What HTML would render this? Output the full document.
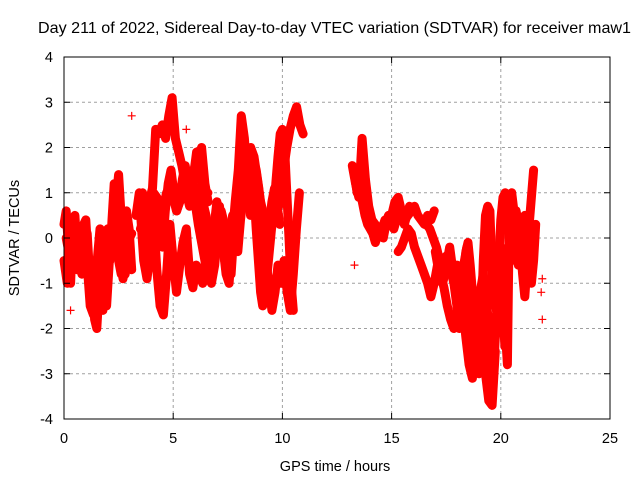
<!DOCTYPE html>
<html><head><meta charset="utf-8"><style>
body{margin:0;background:#fff;}
svg text{font-family:"Liberation Sans",sans-serif;fill:#000;}
</style></head><body>
<svg id="chart" width="640" height="480" xmlns="http://www.w3.org/2000/svg">
<rect width="640" height="480" fill="#fff"/>
<text x="334.5" y="33" font-size="16" textLength="593" lengthAdjust="spacingAndGlyphs" text-anchor="middle">Day 211 of 2022, Sidereal Day-to-day VTEC variation (SDTVAR) for receiver maw1</text>
<text x="335" y="471" font-size="14.5" text-anchor="middle">GPS time / hours</text>
<text transform="translate(19,238) rotate(-90)" font-size="14.5" text-anchor="middle">SDTVAR / TECUs</text>
<g id="grid"></g>
<g id="marks"></g>
<rect x="64" y="57" width="546" height="362" fill="none" stroke="#000" stroke-width="1"/>
<g id="ticks"></g>
</svg>
<script>
const xTicks=[0,5,10,15,20,25];
const yTicks=[-4,-3,-2,-1,0,1,2,3,4];
const t1Start=0.0, t1Step=0.1;
const t1=[0.3,0.6,-0.2,-1,0.2,0.5,-0.3,0.1,-0.6,0.3,0.4,-0.4,-1.2,-0.5,-1.8,-2,-1.2,-0.3,-1.5,-0.8,0.2,-0.5,0.4,1.2,0.9,1.4,0.6,-0.3,-0.8,0.0,0.0,0.1];
const t2Start=0.0, t2Step=0.15;
const t2=[-0.5,-1,0.2,-0.3,-0.7,0.1,0,-0.5,-1.5,-1.7,-0.6,0.2,-0.2,-1.5,-0.3,0.3,0.8,-0.2,-0.9,-0.5,0];
const t2bStart=0.1, t2bStep=0.12;
const t2b=[0.0,-0.3,-0.6,0.2,0.0,-0.4,-0.8,-0.2,0.1,-0.9,-1.3,-1.0,-0.6,-1.1,-1.6,-0.8,-0.3,0.2,0.4,-0.2,-0.5,-0.8,-0.3,0.6,0.2,-0.7];
const t3Start=3.3, t3Step=0.15;
const t3=[0.5,1.0,0.3,-0.5,0.8,1.1,2.4,2.3,2.5,2.2,2.7,3.1,2.2,1.9,1.6,1.2,1.0,1.3,1.6,1.8,2.0,1.2,0.8];
const t4Start=3.5, t4Step=0.15;
const t4=[0.6,-0.5,-0.9,-0.3,0.5,-0.7,-1.5,-1.7,-0.8,0.3,-0.5,-1.2,-0.6,-0.1,0.2,-0.8,-1.1,-0.6,-0.8,-1.0,-0.4];
const t5Start=3.5, t5Step=0.15;
const t5=[0.2,0.4,0.6,0.8,1.0,0.9,0.5,0.7,1.0,1.1,0.9,0.6,0.8,1.2,1.0,0.7,0.9,1.1,1.0,0.8,0.5,0.0];
const t5bStart=3.6, t5bStep=0.13;
const t5b=[1.0,0.5,0.0,-0.3,0.3,0.8,0.4,-0.2,0.6,1.2,1.5,1.0,0.6,0.8,1.3,1.6,1.2,0.9,1.4,1.9,1.6,1.1,0.9,1.0];
const t6Start=6.0, t6Step=0.15;
const t6=[0.8,0.3,-0.1,-0.5,-0.8,-1.0,-0.6,0.2,0.6,0.3,-0.5,-0.8,0.3,0.8,1.2,1.6,1.5,2.0,1.8,1.3,0.8,0.5,0.3,0.4,0.5,0.6,0.8,1.5,2.0,2.4,2.7,2.9,2.5,2.3];
const t7Start=6.3, t7Step=0.14;
const t7=[0.6,0.0,-0.5,-0.3,0.2,0.8,0.5,-0.2,-0.8,-1.0,0.0,0.8,1.5,2.7,2.2,1.2,0.5,1.0,1.3,0.6,-0.1,-0.5,-1.0,-1.6,-1.2,-0.6,-1.0,-0.5,-1.2,-1.6,-0.8,0.2,1.0];
const t7bStart=6.4, t7bStep=0.12;
const t7b=[0.2,-0.4,-0.8,-0.6,-0.2,0.4,0.7,0.2,-0.5,-0.7,0.0,0.5,0.2,-0.3,0.4,0.9,1.2,1.0,1.3,1.7,1.5,1.1,0.6,0.2,-0.2,0.3,0.8,1.1,0.7,0.3];
const t8Start=8.6, t8Step=0.1;
const t8=[1.8,1.0,0.2,-0.5,-1.2,-1.5,-1.2,-0.8,-0.3,0.2,0.5,1.2,1.8,2.3,2.4,2.0,1.0,0.0,-1.0,-1.6];
const t9Start=13.2, t9Step=0.15;
const t9=[1.6,1.2,0.9,2.2,1.3,0.7,0.4,0.3,0.1,0.2,0.4,0.3,0.5,0.8,0.9,0.6,0.4,0.5,0.6,0.7,0.5,0.4,0.3,0.5,0.4,0.6];
const t9bStart=13.3, t9bStep=0.12;
const t9b=[1.4,1.0,1.2,0.8,0.5,0.3,0.2,0.1,-0.1,0.1,0.2,0.0,0.3,0.5,0.4,0.2,0.4,0.6,0.5,0.3,0.5,0.7,0.6];
const t10Start=15.3, t10Step=0.15;
const t10=[-0.3,-0.2,0.0,0.2,0.1,-0.2,-0.4,-0.6,-0.8,-1.0,-1.3,-1.0,-0.6,-0.8,-1.1,-1.5,-1.8,-2.0,-1.8,-1.2,-0.6,-0.2];
const t11Start=16.6, t11Step=0.15;
const t11=[0.3,0.2,0.0,-0.2,-0.5,-0.7,-0.4,-0.5,-0.9,-1.2,-1.0,-1.5,-2.2,-2.8,-3.1,-2.4,-1.8,-2.5,-3.0,-3.6,-3.7,-2.5];
const t11bStart=17.0, t11bStep=0.11;
const t11b=[-0.3,-0.6,-0.9,-1.0,-0.8,-0.5,-0.2,-0.6,-1.1,-1.5,-2.0,-1.6,-1.2,-0.9,-1.3,-1.8,-2.3,-2.0,-1.5,-1.1,-0.8,-1.2,-1.8,-2.6,-3.2,-2.2,-1.2,-0.6,-1.4,-2.4];
const t12Start=18.0, t12Step=0.1;
const t12=[-0.6,-1.0,-1.5,-0.8,-0.3,-0.1,-0.6,-1.2,-1.8,-2.5,-3.0,-2.0,-0.5,0.5,0.7,0.6,-0.8,-1.5,-1.2,-0.5,-0.2,-1.0,-2.0,-2.8,0.8,1.0,0.6,-0.2,-0.6,-0.3,0.1,0.5,0.4,-0.4,-1.0,-0.5,0.3];
const t13Start=19.8, t13Step=0.1;
const t13=[-1.6,-0.6,0.4,0.9,1.0,0.6,0.0,-0.5,0.2,0.6,0.3,-0.2,-0.8,-1.3,-0.6,0.3,0.9,1.5];
const outlierTimes=[13.3,21.9,21.9,21.85,0.3,3.1,5.6];
const outlierValues=[-0.6,-0.9,-1.8,-1.2,-1.6,2.7,2.4];

const NS='http://www.w3.org/2000/svg';
const X0=64,X1=610,Y0=419,Y1=57;
function xs(v){return X0+(v-0)/25*(X1-X0);}
function ys(v){return Y0-(v+4)/8*(Y0-Y1);}
function mk(tag,attrs,parent){const e=document.createElementNS(NS,tag);for(const k in attrs)e.setAttribute(k,attrs[k]);parent.appendChild(e);return e;}
const grid=document.getElementById('grid'),ticks=document.getElementById('ticks'),marks=document.getElementById('marks');
xTicks.forEach(v=>{
  const x=xs(v);
  if(v>0&&v<25){const g=mk('line',{x1:x,x2:x,y1:Y1,y2:Y0,stroke:'#a0a0a0','stroke-dasharray':'3,3'},grid);
  
  }
  mk('line',{x1:x,x2:x,y1:Y0,y2:Y0-6,stroke:'#000'},ticks);
  mk('line',{x1:x,x2:x,y1:Y1,y2:Y1+6,stroke:'#000'},ticks);
  const t=mk('text',{x:x,y:443,'font-size':'14.5','text-anchor':'middle'},ticks);t.textContent=v;
  
  
});
yTicks.forEach(v=>{
  const y=ys(v);
  if(v>-4&&v<4){const g=mk('line',{x1:X0,x2:X1,y1:y,y2:y,stroke:'#a0a0a0','stroke-dasharray':'3,3'},grid);
  
  }
  mk('line',{x1:X0,x2:X0+6,y1:y,y2:y,stroke:'#000'},ticks);
  mk('line',{x1:X1,x2:X1-6,y1:y,y2:y,stroke:'#000'},ticks);
  const t=mk('text',{x:53,y:y+5,'font-size':'14.5','text-anchor':'end'},ticks);t.textContent=v;
  
  
});
const tracks=[[t1Start,t1Step,t1],[t2Start,t2Step,t2],[t2bStart,t2bStep,t2b],[t3Start,t3Step,t3],[t4Start,t4Step,t4],[t5Start,t5Step,t5],[t5bStart,t5bStep,t5b],[t6Start,t6Step,t6],[t7Start,t7Step,t7],[t7bStart,t7bStep,t7b],[t8Start,t8Step,t8],[t9Start,t9Step,t9],[t9bStart,t9bStep,t9b],[t10Start,t10Step,t10],[t11Start,t11Step,t11],[t11bStart,t11bStep,t11b],[t12Start,t12Step,t12],[t13Start,t13Step,t13]];
function plus(x,y){
  const p=mk('path',{d:`M${x-4},${y}h8M${x},${y-4}v8`,stroke:'#f00','stroke-width':'1.2',fill:'none'},marks);
  
  
}
tracks.forEach(([s,st,vals],i)=>{
  const pts=vals.map((v,j)=>xs(s+j*st).toFixed(1)+','+ys(v).toFixed(1)).join(' ');
  const pl=mk('polyline',{points:pts,fill:'none',stroke:'#f00','stroke-width':'9','stroke-linejoin':'round','stroke-linecap':'round'},marks);
  
  
  vals.forEach((v,j)=>plus(xs(s+j*st),ys(v)));
});
outlierTimes.forEach((t,i)=>plus(xs(t),ys(outlierValues[i])));
</script>
</body></html>
